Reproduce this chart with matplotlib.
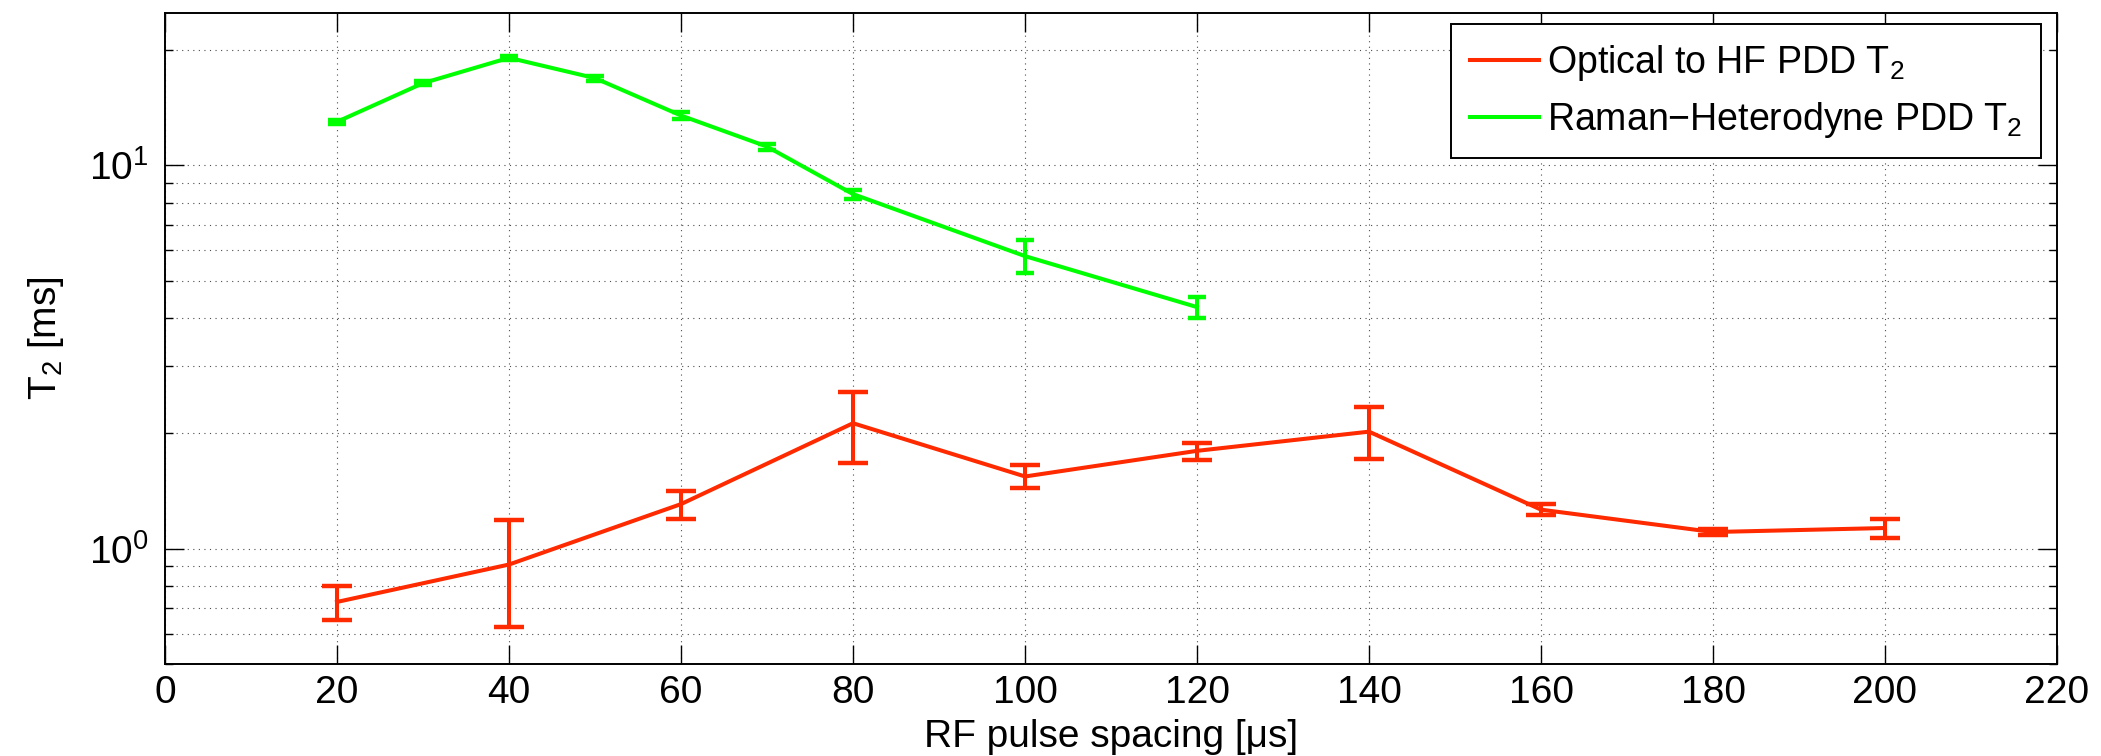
import numpy as np
import matplotlib
matplotlib.use("Agg")
import matplotlib.pyplot as plt
from matplotlib.ticker import LogLocator, NullFormatter, FixedLocator

plt.rcParams['font.family'] = ['Liberation Sans', 'DejaVu Sans']
plt.rcParams['mathtext.fontset'] = 'custom'
plt.rcParams['mathtext.rm'] = 'Liberation Sans'
plt.rcParams['mathtext.it'] = 'Liberation Sans'

# Optical to HF PDD T2 (red)
opt_x = [20, 40, 60, 80, 100, 120, 140, 160, 180, 200]
opt_t2 = [0.726, 0.909, 1.307, 2.125, 1.543, 1.80, 2.02, 1.264, 1.105, 1.132]
opt_lo = [0.651, 0.626, 1.197, 1.674, 1.436, 1.705, 1.712, 1.221, 1.085, 1.068]
opt_hi = [0.801, 1.188, 1.416, 2.570, 1.658, 1.885, 2.340, 1.307, 1.125, 1.197]

# Raman-Heterodyne PDD T2 (green)
rh_x = [20, 30, 40, 50, 60, 70, 80, 100, 120]
rh_t2 = [13.0, 16.4, 19.1, 16.9, 13.5, 11.2, 8.42, 5.80, 4.27]
rh_err = [0.15, 0.18, 0.2, 0.27, 0.25, 0.2, 0.23, 0.0, 0.0]
rh_lo = [5.23, 4.01]
rh_hi = [6.38, 4.53]

red = '#ff2a00'
green = '#00ff00'

fig = plt.figure(figsize=(21.01, 7.56), dpi=100)
ax = fig.add_axes([165 / 2101, 1 - 664 / 756, 1892 / 2101, 651 / 756])

# asymmetric errors for red
opt_t2 = np.array(opt_t2)
red_err = [opt_t2 - np.array(opt_lo), np.array(opt_hi) - opt_t2]
ax.plot(opt_x, opt_t2, color=red, lw=2.9, label='Optical to HF PDD T$_2$', zorder=3)
ax.errorbar(opt_x, opt_t2, yerr=red_err, fmt='none', ecolor=red, elinewidth=2.9,
            capsize=11, capthick=3.2, zorder=3)

rh_t2 = np.array(rh_t2)
g_lo = np.array(rh_err)
g_hi = np.array(rh_err)
g_lo[-2:] = rh_t2[-2:] - np.array(rh_lo)
g_hi[-2:] = np.array(rh_hi) - rh_t2[-2:]
ax.plot(rh_x, rh_t2, color=green, lw=2.9, label='Raman$-$Heterodyne PDD T$_2$', zorder=3)
ax.errorbar(rh_x, rh_t2, yerr=[g_lo, g_hi], fmt='none', ecolor=green, elinewidth=2.9,
            capsize=6.2, capthick=3.2, zorder=3)

ax.set_yscale('log')
ax.set_xlim(0, 220)
ax.set_ylim(0.5, 25)
ax.xaxis.set_major_locator(FixedLocator(np.arange(0, 221, 20)))
ax.yaxis.set_major_locator(LogLocator(base=10))
ax.yaxis.set_minor_locator(LogLocator(base=10, subs=np.arange(2, 10)))
ax.yaxis.set_minor_formatter(NullFormatter())

ax.grid(True, which='major', axis='x', linestyle=(0, (1, 4)), color='0.3', lw=0.8)
ax.grid(True, which='both', axis='y', linestyle=(0, (1, 4)), color='0.3', lw=0.8)

ax.tick_params(which='both', direction='in', top=True, right=True, labelsize=28, width=1.0)
ax.tick_params(which='major', length=13.5)
ax.tick_params(which='minor', length=6)
ax.tick_params(axis='x', pad=8)
ax.tick_params(axis='y', pad=12)
for s in ax.spines.values():
    s.set_linewidth(1.4)

ax.set_xlabel('RF pulse spacing [\u03bcs]', fontsize=28, labelpad=6)
ax.set_ylabel('T$_2$ [ms]', fontsize=28, labelpad=16)

leg = ax.legend(loc='upper right', bbox_to_anchor=(0.9915, 0.983), borderaxespad=0,
                fontsize=27, handlelength=1.85, handletextpad=0.2, labelspacing=0.45,
                fancybox=False, framealpha=1, edgecolor='black', borderpad=0.5)
leg.get_frame().set_linewidth(1.4)

fig.savefig('out.png', dpi=100)
